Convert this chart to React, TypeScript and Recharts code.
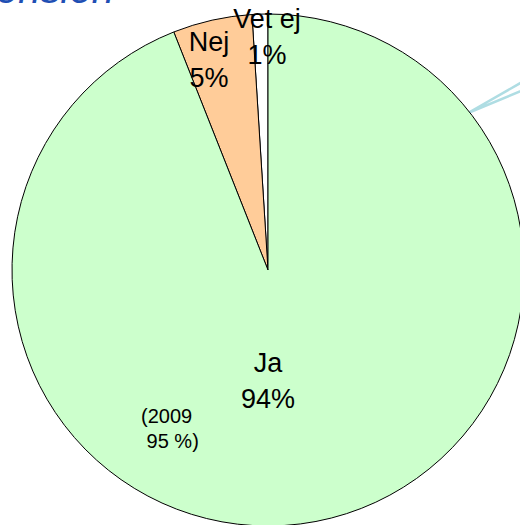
import { Pie, PieChart, Cell } from 'recharts';

const NAMES = ['Vet ej', 'Nej', 'Ja'];
const VALUES = [1, 5, 94];
const NOTE_LINES = ['(2009', ' 95 %)'];

const COLORS = ['#ffffff', '#ffcc99', '#ccffcc'];
// label offsets from the pie centre (first line baseline)
const LABEL_OFFSETS = [
  { dx: -1, dy: -242 },
  { dx: -59, dy: -219 },
  { dx: 0, dy: 102 },
];

const FONT = '"Liberation Sans", Arial, Helvetica, sans-serif';

const data = NAMES.map((name, i) => ({ name, value: VALUES[i] }));

const renderLabel = (props: any) => {
  const { cx, cy, index, value, name } = props;
  const off = LABEL_OFFSETS[index];
  const x = cx + off.dx;
  const y = cy + off.dy;
  return (
    <text
      x={x}
      y={y}
      textAnchor="middle"
      fill="#000"
      fontFamily={FONT}
      fontSize={27}
    >
      <tspan x={x} dy={0}>{name}</tspan>
      <tspan x={x} dy={36}>{`${value}%`}</tspan>
    </text>
  );
};

export default function App() {
  return (
    <div style={{ position: 'absolute', left: 0, top: 0, width: 520, height: 525, background: '#fff', overflow: 'hidden' }}>
      <svg width={520} height={525} style={{ position: 'absolute', left: 0, top: 0 }}>
        <text x={-4} y={3} fontFamily={FONT} fontStyle="italic" fontSize={40} fill="#1f4fb4">
          ension
        </text>
        <polyline
          points="545,69 468,113 545,81"
          fill="none"
          stroke="#afdde3"
          strokeWidth={2.5}
        />
      </svg>
      <div style={{ position: 'absolute', left: 0, top: 0 }}>
        <PieChart width={520} height={525} margin={{ top: 0, right: 0, bottom: 0, left: 0 }}>
          <Pie
            data={data}
            dataKey="value"
            nameKey="name"
            cx={268}
            cy={270}
            outerRadius={256}
            startAngle={90}
            endAngle={450}
            stroke="#000"
            strokeWidth={1}
            labelLine={false}
            label={renderLabel}
            isAnimationActive={false}
          >
            {data.map((entry, i) => (
              <Cell key={entry.name} fill={COLORS[i]} />
            ))}
          </Pie>
        </PieChart>
      </div>
      <svg width={520} height={525} style={{ position: 'absolute', left: 0, top: 0, pointerEvents: 'none' }}>
        <text fontFamily={FONT} fontSize={20} fill="#000" style={{ whiteSpace: 'pre' }}>
          <tspan x={141} y={423}>{NOTE_LINES[0]}</tspan>
          <tspan x={141} y={448}>{NOTE_LINES[1]}</tspan>
        </text>
      </svg>
    </div>
  );
}
